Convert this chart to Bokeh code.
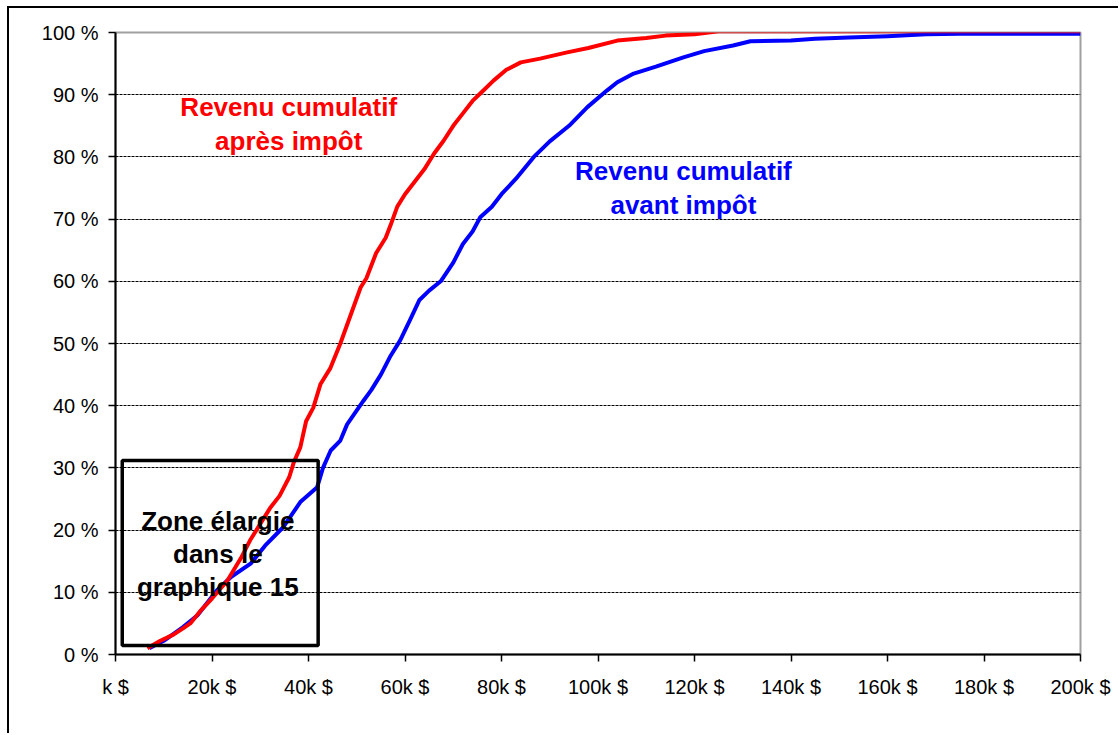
from bokeh.plotting import figure
from bokeh.models import FixedTicker, Range1d, Label, BoxAnnotation
from bokeh.embed import file_html
from bokeh.resources import INLINE

# ---- data (x in k$, y in %) ----
red_x = [6.6, 9.3, 12, 14, 15.5, 17.6, 20, 23.2, 26, 28, 30, 32, 34, 36, 37, 38.3, 39.5, 41,
         42.5, 44.5, 46.6, 48.7, 50.8, 52, 54, 56, 57, 58.4, 60, 62, 64, 66, 68, 70, 72, 74,
         75.6, 78.4, 81, 84, 88, 93.6, 98, 104, 110, 114, 120, 125, 200]
red_y = [1.0, 2.2, 3.2, 4.2, 5.0, 7.0, 9.0, 11.9, 15.5, 18.5, 21, 23.5, 25.5, 28.5, 31, 33.3,
         37.5, 39.7, 43.5, 46, 50, 54.5, 59, 60.5, 64.5, 67, 69, 72, 74, 76, 78, 80.5, 82.6,
         85, 87, 89, 90.2, 92.3, 94, 95.2, 95.8, 96.8, 97.5, 98.7, 99.1, 99.5, 99.7, 100.2, 100.2]

blue_x = [7, 10, 14, 17, 21, 24, 28, 31, 34.8, 38.3, 41.8, 43, 44.6, 46.6, 48, 51.4, 53, 55,
          57, 59, 61, 63, 65, 67.4, 70, 72, 74, 75.6, 78, 80, 83, 86.7, 90, 94, 97.8, 101.9,
          104, 107.4, 112, 117.7, 122, 128, 131.6, 140, 145, 152, 160, 168, 175, 200]
blue_y = [1.0, 2.2, 4.4, 6.3, 10.3, 12.5, 14.6, 17.5, 20.5, 24.5, 26.9, 30, 32.8, 34.4, 37,
          40.8, 42.5, 45, 48, 50.5, 53.7, 57, 58.5, 60, 63, 66, 68, 70.3, 72, 74, 76.5, 80,
          82.5, 85, 88, 90.7, 92, 93.4, 94.5, 96, 97, 97.9, 98.6, 98.7, 99, 99.2, 99.4, 99.7,
          99.8, 99.8]

x_ticks = [0, 20, 40, 60, 80, 100, 120, 140, 160, 180, 200]
x_labels = ["k $", "20k $", "40k $", "60k $", "80k $", "100k $", "120k $", "140k $",
            "160k $", "180k $", "200k $"]
y_ticks = [0, 10, 20, 30, 40, 50, 60, 70, 80, 90, 100]
y_labels = ["0 %", "10 %", "20 %", "30 %", "40 %", "50 %", "60 %", "70 %", "80 %", "90 %", "100 %"]

FONT = "Liberation Sans"

p = figure(width=1111, height=727, output_backend="svg", toolbar_location=None,
           x_range=Range1d(0, 200), y_range=Range1d(0, 100),
           min_border_left=106, min_border_right=40, min_border_top=24, min_border_bottom=81)
p.styles = {"border-left": "2px solid black", "border-top": "2px solid black",
            "margin-left": "7px", "margin-top": "6px"}

p.background_fill_color = "white"
p.border_fill_color = "white"
p.outline_line_color = "#a0a0a0"
p.outline_line_width = 2

# grid
p.xgrid.visible = False
p.ygrid.ticker = FixedTicker(ticks=y_ticks[1:-1])
p.ygrid.grid_line_color = "black"
p.ygrid.grid_line_width = 1
p.ygrid.grid_line_dash = "3 1"

# axes
for ax, ticks, labels in ((p.xaxis[0], x_ticks, x_labels), (p.yaxis[0], y_ticks, y_labels)):
    ax.ticker = FixedTicker(ticks=ticks)
    ax.major_label_overrides = {t: l for t, l in zip(ticks, labels)}
    ax.axis_line_color = "black"
    ax.axis_line_width = 2
    ax.major_tick_line_color = "black"
    ax.major_tick_line_width = 1.5
    ax.major_tick_out = 7
    ax.major_tick_in = 0
    ax.minor_tick_line_color = None
    ax.major_label_text_font = FONT
    ax.major_label_text_font_size = "20px"
    ax.major_label_text_color = "black"
p.xaxis.major_label_standoff = 14
p.yaxis.major_label_standoff = 10

# lines
p.line(blue_x, blue_y, line_color="#0000FF", line_width=4, line_join="round")
p.line(red_x, red_y, line_color="#FF0000", line_width=4, line_join="round")

# zoom box
p.add_layout(BoxAnnotation(left=1.4, right=42, bottom=1.45, top=31.2,
                           fill_alpha=0, line_color="black", line_alpha=1.0, line_width=3.5))

def lab(x, y, t, c):
    p.add_layout(Label(x=x, y=y, text=t, text_color=c, text_font=FONT,
                       text_font_size="26px", text_font_style="bold",
                       text_align="center", text_baseline="middle"))

lab(35.9, 88.1, "Revenu cumulatif", "#FF0000")
lab(35.9, 82.5, "après impôt", "#FF0000")
lab(117.7, 77.8, "Revenu cumulatif", "#0000FF")
lab(117.7, 72.2, "avant impôt", "#0000FF")
lab(21.2, 21.5, "Zone élargie", "black")
lab(21.2, 16.2, "dans le", "black")
lab(21.2, 10.8, "graphique 15", "black")

open("out.html", "w").write(file_html(p, INLINE))
